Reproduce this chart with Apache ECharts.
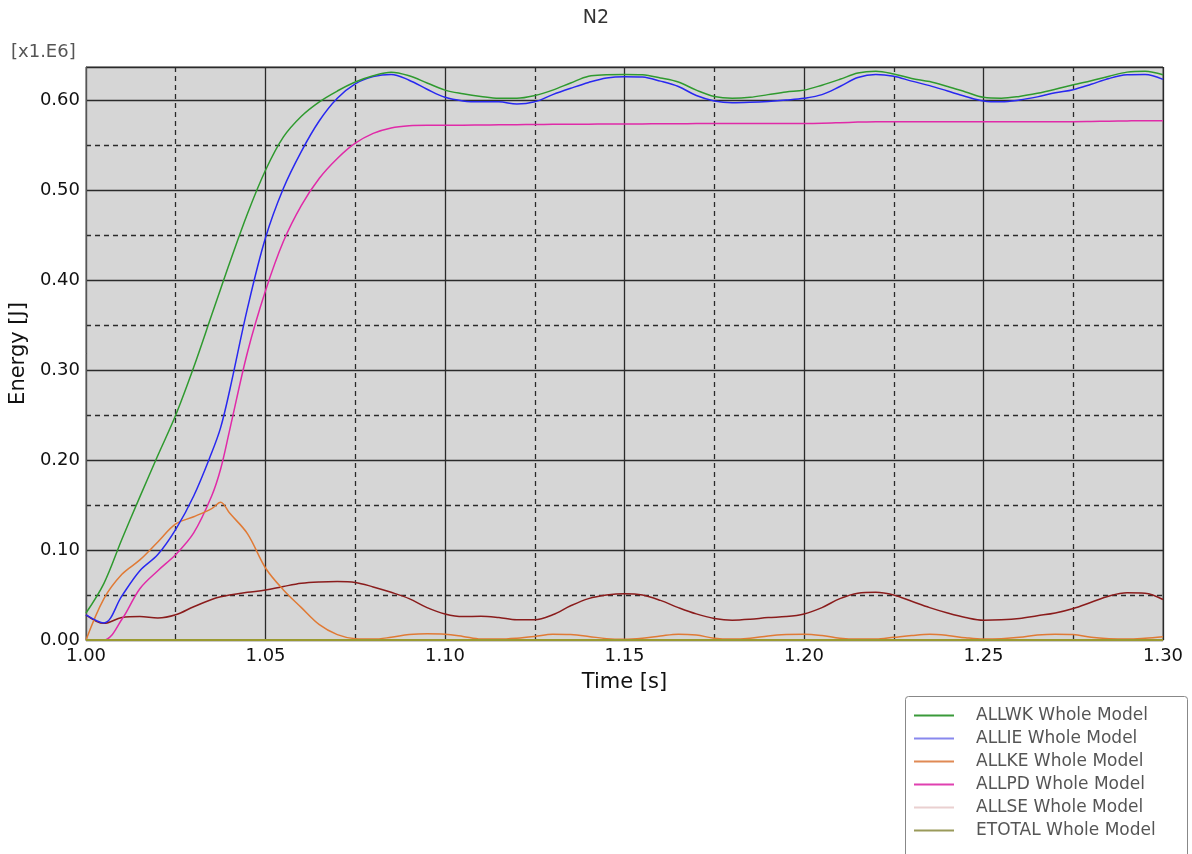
<!DOCTYPE html>
<html>
<head>
<meta charset="utf-8">
<title>N2</title>
<script src="https://cdn.jsdelivr.net/npm/echarts@6/dist/echarts.min.js"></script>
<style>
  html, body { margin: 0; padding: 0; background: #ffffff; }
  #chart { width: 1192px; height: 854px; }
</style>
</head>
<body>
<div id="chart"></div>
<script>
// Time samples [s]
const times = [
  1.000, 1.005, 1.010, 1.015, 1.020, 1.025, 1.030, 1.035, 1.0375, 1.040, 1.045,
  1.050, 1.055, 1.060, 1.065, 1.070, 1.075, 1.080, 1.085, 1.090, 1.095,
  1.100, 1.105, 1.110, 1.115, 1.120, 1.125, 1.130, 1.135, 1.140, 1.145,
  1.150, 1.155, 1.160, 1.165, 1.170, 1.175, 1.180, 1.185, 1.190, 1.195,
  1.200, 1.205, 1.210, 1.215, 1.220, 1.225, 1.230, 1.235, 1.240, 1.245,
  1.250, 1.255, 1.260, 1.265, 1.270, 1.275, 1.280, 1.285, 1.290, 1.295,
  1.300
];

// Energies in units of 1e6 J
const allwk = [
  0.030, 0.063, 0.112, 0.159, 0.205, 0.250, 0.303, 0.361, 0.390, 0.419, 0.474,
  0.522, 0.559, 0.582, 0.598, 0.610, 0.620, 0.627, 0.631, 0.627, 0.619,
  0.611, 0.607, 0.604, 0.602, 0.602, 0.605, 0.611, 0.619, 0.6265, 0.628,
  0.6285, 0.628, 0.6245, 0.620, 0.611, 0.604, 0.602, 0.603, 0.606, 0.609,
  0.611, 0.6165, 0.623, 0.630, 0.632, 0.629, 0.624, 0.6205, 0.615, 0.609,
  0.603, 0.602, 0.604, 0.6075, 0.612, 0.617, 0.6215, 0.6265, 0.631, 0.632,
  0.628
];

const allie = [
  0.028, 0.019, 0.049, 0.077, 0.095, 0.123, 0.160, 0.208, 0.236, 0.277, 0.369,
  0.447, 0.502, 0.543, 0.577, 0.602, 0.618, 0.626, 0.6285, 0.622, 0.612,
  0.603, 0.599, 0.598, 0.598, 0.5955, 0.598, 0.606, 0.613, 0.6195, 0.6245,
  0.626, 0.6255, 0.621, 0.615, 0.605, 0.599, 0.597, 0.5975, 0.5985, 0.600,
  0.602, 0.606, 0.615, 0.625, 0.6285, 0.6265, 0.621, 0.616, 0.610, 0.604,
  0.599, 0.598, 0.600, 0.6035, 0.608, 0.6115, 0.6175, 0.624, 0.628, 0.6285,
  0.623
];

const allke = [
  0.000, 0.046, 0.073, 0.089, 0.109, 0.129, 0.137, 0.146, 0.153, 0.141, 0.118,
  0.080, 0.0556, 0.036, 0.017, 0.006, 0.0015, 0.001, 0.003, 0.006, 0.007,
  0.0065, 0.004, 0.001, 0.001, 0.002, 0.004, 0.0065, 0.006, 0.004, 0.0015,
  0.0008, 0.002, 0.0045, 0.0065, 0.0055, 0.002, 0.001, 0.002, 0.0045, 0.006,
  0.0065, 0.005, 0.002, 0.001, 0.001, 0.003, 0.005, 0.0063, 0.005, 0.0025,
  0.001, 0.0015, 0.003, 0.0055, 0.0065, 0.006, 0.003, 0.0015, 0.001, 0.002,
  0.0037
];

const allpd = [
  0.000, 0.000, 0.023, 0.057, 0.077, 0.095, 0.119, 0.160, 0.190, 0.233, 0.320,
  0.388, 0.443, 0.483, 0.513, 0.535, 0.552, 0.563, 0.569, 0.5715, 0.572,
  0.572, 0.572, 0.5722, 0.5724, 0.5726, 0.5728, 0.573, 0.5731, 0.5732, 0.5733,
  0.5734, 0.5735, 0.5736, 0.5737, 0.5738, 0.5739, 0.574, 0.574, 0.574, 0.574,
  0.574, 0.5742, 0.5748, 0.5755, 0.576, 0.576, 0.576, 0.576, 0.576, 0.576,
  0.576, 0.576, 0.576, 0.576, 0.576, 0.576, 0.5762, 0.5765, 0.5768, 0.577,
  0.577
];

const allse = [
  0.028, 0.0185, 0.025, 0.026, 0.0245, 0.028, 0.037, 0.045, 0.048, 0.050, 0.053,
  0.0555, 0.0595, 0.063, 0.0645, 0.065, 0.064, 0.059, 0.053, 0.046, 0.036,
  0.029, 0.026, 0.0265, 0.025, 0.0225, 0.0225, 0.028, 0.038, 0.046, 0.050,
  0.0515, 0.050, 0.044, 0.036, 0.029, 0.024, 0.022, 0.023, 0.025, 0.026,
  0.029, 0.036, 0.046, 0.052, 0.053, 0.050, 0.043, 0.036, 0.030, 0.025,
  0.022, 0.0225, 0.024, 0.027, 0.030, 0.035, 0.042, 0.049, 0.0525, 0.052,
  0.045
];

const etotal = [
  0, 0, 0, 0, 0, 0, 0, 0, 0, 0, 0,
  0, 0, 0, 0, 0, 0, 0, 0, 0, 0,
  0, 0, 0, 0, 0, 0, 0, 0, 0, 0,
  0, 0, 0, 0, 0, 0, 0, 0, 0, 0,
  0, 0, 0, 0, 0, 0, 0, 0, 0, 0,
  0, 0, 0, 0, 0, 0, 0, 0, 0, 0,
  0
];

const seriesNames = [
  'ALLWK Whole Model',
  'ALLIE Whole Model',
  'ALLKE Whole Model',
  'ALLPD Whole Model',
  'ALLSE Whole Model',
  'ETOTAL Whole Model'
];

const seriesValues = [allwk, allie, allke, allpd, allse, etotal];
const lineColors = ['#2f9a2f', '#2828f0', '#e07a35', '#e02aa8', '#8a1c1c', '#9a9a30'];
const legendColors = ['#3a9a3a', '#8888ee', '#e08a55', '#e040b0', '#ead0d0', '#9a9a5a'];

const FONT = 'DejaVu Sans';

const chart = echarts.init(document.getElementById('chart'), null, { renderer: 'canvas' });

const series = seriesValues.map((vals, i) => ({
  name: seriesNames[i],
  type: 'line',
  data: times.map((t, k) => [t, vals[k]]),
  smooth: 0.35,
  showSymbol: false,
  symbol: 'none',
  lineStyle: { color: lineColors[i], width: i === 5 ? 2 : 1.5 },
  itemStyle: { color: lineColors[i] },
  z: i === 5 ? 12 : 10 - i
}));

chart.setOption({
  animation: false,
  backgroundColor: '#ffffff',
  title: {
    text: 'N2',
    left: 'center',
    top: 4,
    textStyle: { fontFamily: FONT, fontSize: 19, fontWeight: 'normal', color: '#333' }
  },
  graphic: [
    {
      type: 'text',
      left: 11,
      top: 43,
      style: { text: '[x1.E6]', font: '18px "DejaVu Sans"', fill: '#555' }
    },
    {
      // legend frame, running off the bottom edge
      type: 'rect',
      left: 905,
      top: 696,
      shape: { width: 282, height: 180, r: 3 },
      style: { fill: '#ffffff', stroke: '#888', lineWidth: 1 },
      z: -1
    }
  ],
  grid: {
    left: 86,
    right: 29,
    top: 67,
    bottom: 214,
    show: true,
    backgroundColor: '#d6d6d6',
    borderColor: '#555',
    borderWidth: 1
  },
  legend: {
    orient: 'vertical',
    left: 906,
    top: 699,
    data: seriesNames.map((n, i) => ({ name: n, itemStyle: { color: legendColors[i] } })),
    icon: 'rect',
    itemWidth: 40,
    itemHeight: 2,
    itemGap: 6,
    padding: [8, 10, 2, 8],
    selectedMode: false,
    textStyle: {
      fontFamily: FONT,
      fontSize: 17,
      color: '#555',
      padding: [0, 0, 0, 17],
      lineHeight: 16,
      height: 16
    }
  },
  xAxis: {
    type: 'value',
    min: 1.0,
    max: 1.3,
    interval: 0.05,
    name: 'Time [s]',
    nameLocation: 'middle',
    nameGap: 32,
    nameTextStyle: { fontFamily: FONT, fontSize: 21, color: '#111' },
    axisLine: { show: true, lineStyle: { color: '#555' } },
    axisTick: { show: false },
    axisLabel: {
      fontFamily: FONT, fontSize: 18, color: '#111', margin: 7,
      formatter: v => v.toFixed(2)
    },
    splitLine: { show: true, lineStyle: { color: '#2a2a2a', width: 1.3, type: 'solid' } },
    minorTick: { show: false, splitNumber: 2 },
    minorSplitLine: { show: true, lineStyle: { color: '#2a2a2a', width: 1.3, type: [5, 4] } }
  },
  yAxis: {
    type: 'value',
    min: 0,
    max: 0.6367,
    interval: 0.1,
    name: 'Energy [J]',
    nameLocation: 'middle',
    nameGap: 50,
    nameRotate: 90,
    nameTextStyle: { fontFamily: FONT, fontSize: 21, color: '#111' },
    axisLine: { show: true, lineStyle: { color: '#555' } },
    axisTick: { show: false },
    axisLabel: {
      fontFamily: FONT, fontSize: 18, color: '#111', margin: 6,
      formatter: v => {
        const k = Math.round(v * 10);
        return (Math.abs(v * 10 - k) < 1e-6 && k <= 6) ? (k / 10).toFixed(2) : '';
      }
    },
    splitLine: { show: true, lineStyle: { color: '#2a2a2a', width: 1.3, type: 'solid' } },
    minorTick: { show: false, splitNumber: 2 },
    minorSplitLine: { show: true, lineStyle: { color: '#2a2a2a', width: 1.3, type: [5, 4] } }
  },
  series: series
});
</script>
</body>
</html>
